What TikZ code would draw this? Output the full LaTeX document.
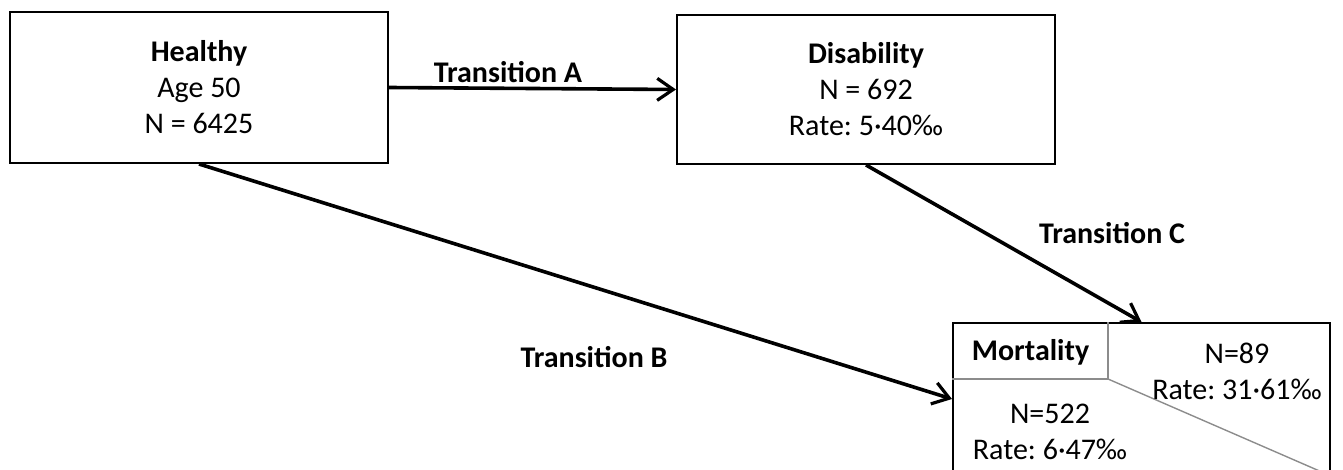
\documentclass[tikz,border=0pt]{standalone}
\usepackage{fontspec}
\setmainfont{Carlito}
\usetikzlibrary{arrows.meta}
\frenchspacing

\begin{document}
\begin{tikzpicture}[x=0.5pt,y=-0.5pt,
    every node/.style={font=\fontsize{15}{18}\selectfont,align=center},
    state/.style={draw,line width=1pt,inner sep=0pt},
    trans/.style={line width=1.8pt,-{Straight Barb[length=8pt,width=11pt,line width=1.6pt]}},
    translbl/.style={font=\fontsize{15}{18}\selectfont\bfseries},
    divider/.style={draw=black!45,line width=0.7pt}]

    \clip (0,0) rectangle (1343,470);

    % States
    \node[state,minimum width=189pt,minimum height=75.5pt] (healthy) at (199,87.5)
      {\textbf{Healthy}\\Age 50\\N = 6425};
    \node[state,minimum width=189pt,minimum height=74.5pt] (disab) at (866,89.5)
      {\textbf{Disability}\\N = 692\\Rate: 5·40‰};
    \node[state,minimum width=188.5pt,minimum height=76pt] (mort) at (1141.5,399) {};

    % Mortality cells
    \coordinate (split) at (1108,379);
    \draw[divider] (split |- mort.north) -- (split) -- (split -| mort.west);
    \draw[divider] (split) -- (mort.south east);
    \node[inner sep=0pt] (mortlbl) at (1030.5,352) {\textbf{Mortality}};
    \node[inner sep=0pt] (mortC) at (1237,371) {N=89\\Rate: 31·61‰};
    \node[inner sep=0pt] (mortB) at (1050,432) {N=522\\Rate: 6·47‰};

    % Transitions
    \draw[trans] (healthy.east) -- (disab.west);
    \draw[trans] (healthy.south) -- (mort.west);
    \draw[trans] (disab.south) -- (mort.north);

    \node[translbl] (lblA) at (508,72) {Transition A};
    \node[translbl] (lblB) at (594,357) {Transition B};
    \node[translbl] (lblC) at (1112,233) {Transition C};

  \end{tikzpicture}
\end{document}
